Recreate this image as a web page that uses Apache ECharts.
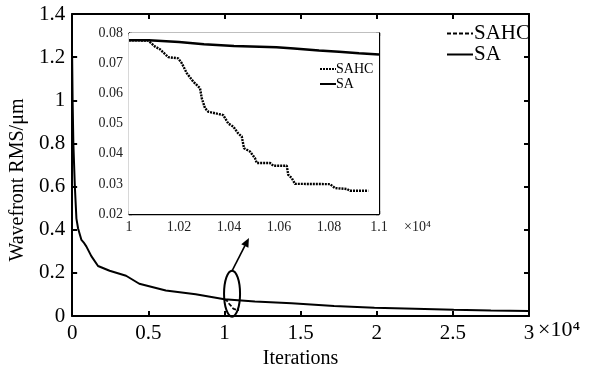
<!DOCTYPE html>
<html><head><meta charset="utf-8">
<script src="https://cdn.jsdelivr.net/npm/echarts@6/dist/echarts.min.js"></script>
<style>html,body{margin:0;padding:0;background:#fff}#c{width:590px;height:374px}</style>
</head><body><div id="c"></div>
<script>
// Main chart data (x in units of 10^4 iterations)
var mainSAx = [0, 0.003, 0.008, 0.0176, 0.028, 0.039, 0.061, 0.075, 0.083, 0.093, 0.126, 0.17, 0.246, 0.354, 0.441, 0.615, 0.811, 1.0, 1.2, 1.441, 1.72, 1.985, 2.25, 2.506, 2.75, 3.0];
var mainSAy = [1.2, 1.0, 0.8, 0.603, 0.452, 0.406, 0.353, 0.342, 0.346, 0.323, 0.278, 0.232, 0.210, 0.187, 0.150, 0.119, 0.101, 0.078, 0.068, 0.059, 0.047, 0.039, 0.034, 0.029, 0.026, 0.024];
// SAHC (zoomed region 1.0 - 1.1)
var sahcX = [1.0, 1.0077, 1.0104, 1.0124, 1.0157, 1.0197, 1.0211, 1.0231, 1.0257, 1.0284, 1.0291, 1.0304, 1.0317, 1.0377, 1.0397, 1.0417, 1.0437, 1.0451, 1.046, 1.0484, 1.0504, 1.0511, 1.0564, 1.0577, 1.0631, 1.0637, 1.0651, 1.0664, 1.0804, 1.0824, 1.0871, 1.0884, 1.0957];
var sahcY = [0.0776, 0.0775, 0.0755, 0.0746, 0.0720, 0.0716, 0.0700, 0.0667, 0.0639, 0.0617, 0.0584, 0.0551, 0.0539, 0.0528, 0.0500, 0.0490, 0.0467, 0.0457, 0.0418, 0.0407, 0.0385, 0.0369, 0.0369, 0.0360, 0.0360, 0.0330, 0.0319, 0.0300, 0.0299, 0.0286, 0.0283, 0.0277, 0.0277];
var insetSAx = [1.0, 1.008, 1.02, 1.03, 1.042, 1.059, 1.066, 1.076, 1.084, 1.092, 1.1];
var insetSAy = [0.0776, 0.0776, 0.0770, 0.0763, 0.0757, 0.0753, 0.0749, 0.0742, 0.0738, 0.0733, 0.0729];
var mainXTicks = [0, 0.5, 1, 1.5, 2, 2.5, 3];
var mainYTicks = [0, 0.2, 0.4, 0.6, 0.8, 1, 1.2, 1.4];
var insetXTicks = [1, 1.02, 1.04, 1.06, 1.08, 1.1];
var insetYTicks = [0.02, 0.03, 0.04, 0.05, 0.06, 0.07, 0.08];
var seriesNames = ['SAHC', 'SA'];
var INSET_SUFFIX = ' (inset)';

function pairs(xs, ys) { return xs.map(function (x, i) { return [x, ys[i]]; }); }
var FONT = 'Liberation Serif';
function fmt(d) { return function (v) { return String(+(+v).toFixed(d)); }; }

function ax(pos, grid, ticks, digits, opts) {
  return {
    type: 'value', gridIndex: grid, position: pos,
    min: ticks[0], max: ticks[ticks.length - 1], interval: +(ticks[1] - ticks[0]).toFixed(4),
    axisLine: { show: true, onZero: false, lineStyle: { color: '#000', width: opts.lw } },
    axisTick: { show: true, inside: true, length: opts.tl, lineStyle: { color: '#000', width: opts.lw } },
    axisLabel: { show: opts.label, color: opts.col || '#000', fontFamily: FONT, fontSize: opts.fs, margin: opts.margin, formatter: fmt(digits), showMinLabel: true, showMaxLabel: true },
    splitLine: { show: false }
  };
}

var chart = echarts.init(document.getElementById('c'), null, { renderer: 'canvas' });
var mainOpt = { lw: 2, tl: 5, fs: 21, margin: 7 };
var insOpt = { lw: 1.3, tl: 3, fs: 14, margin: 6, col: '#222' };

var xAxes = [
  Object.assign(ax('bottom', 0, mainXTicks, 1, Object.assign({ label: true }, mainOpt)), {
    name: 'Iterations', nameLocation: 'middle', nameGap: 31,
    nameTextStyle: { color: '#000', fontFamily: FONT, fontSize: 20 }
  }),
  ax('top', 0, mainXTicks, 1, Object.assign({ label: false }, mainOpt)),
  ax('bottom', 1, insetXTicks, 2, Object.assign({ label: true }, insOpt)),
  ax('top', 1, insetXTicks, 2, Object.assign({ label: false }, insOpt))
];
var yAxes = [
  Object.assign(ax('left', 0, mainYTicks, 1, Object.assign({ label: true }, mainOpt)), {
    name: 'Wavefront RMS/μm', nameLocation: 'middle', nameGap: 42,
    nameTextStyle: { color: '#000', fontFamily: FONT, fontSize: 20, padding: [0, 30, 0, 0] }
  }),
  ax('right', 0, mainYTicks, 1, Object.assign({ label: false }, mainOpt)),
  ax('left', 1, insetYTicks, 2, Object.assign({ label: true }, insOpt)),
  ax('right', 1, insetYTicks, 2, Object.assign({ label: false }, insOpt))
];

chart.setOption({
  animation: false,
  backgroundColor: '#fff',
  textStyle: { fontFamily: FONT },
  grid: [
    { left: 69, top: 14, right: 61, bottom: 51, show: false, containLabel: false },
    { left: 129, top: 33, right: 211, bottom: 160, show: true, backgroundColor: '#fff', borderWidth: 0, z: 1, containLabel: false }
  ],
  xAxis: xAxes,
  yAxis: yAxes,
  legend: [
    {
      id: 'mainLegend', show: true, z: 30, left: 441, top: 18, orient: 'vertical', itemGap: 0, itemWidth: 26, itemHeight: 12,
      selectedMode: false, itemStyle: { opacity: 0 },
      textStyle: { color: '#000', fontFamily: FONT, fontSize: 21, padding: [0, 0, 0, -4] },
      data: seriesNames
    },
    {
      id: 'insetLegend', show: true, z: 30, left: 314, top: 57, orient: 'vertical', itemGap: 1, itemWidth: 16, itemHeight: 8,
      selectedMode: false, itemStyle: { opacity: 0 },
      textStyle: { color: '#000', fontFamily: FONT, fontSize: 14, padding: [0, 0, 0, -5] },
      formatter: function (n) { return n.replace(INSET_SUFFIX, ''); },
      data: seriesNames.map(function (n) { return n + INSET_SUFFIX; })
    }
  ],
  series: [
    { name: seriesNames[1], type: 'line', xAxisIndex: 0, yAxisIndex: 0, data: pairs(mainSAx, mainSAy), symbol: 'none', lineStyle: { color: '#000', width: 2 }, itemStyle: { color: '#000' } },
    { name: seriesNames[0], type: 'line', xAxisIndex: 0, yAxisIndex: 0, data: pairs(sahcX, sahcY), symbol: 'none', lineStyle: { color: '#000', width: 1.8, type: [4, 2] }, itemStyle: { color: '#000' } },
    { name: seriesNames[1] + INSET_SUFFIX, type: 'line', xAxisIndex: 2, yAxisIndex: 2, data: pairs(insetSAx, insetSAy), symbol: 'none', z: 10, lineStyle: { color: '#000', width: 2.5 }, itemStyle: { color: '#000' } },
    { name: seriesNames[0] + INSET_SUFFIX, type: 'line', xAxisIndex: 2, yAxisIndex: 2, data: pairs(sahcX, sahcY), symbol: 'none', z: 10, lineStyle: { color: '#000', width: 2.4, type: [2, 1] }, itemStyle: { color: '#000' } }
  ]
});

// Annotations: ellipse around zoom region, arrow to inset, x10^4 multipliers
var c = chart.convertToPixel({ gridIndex: 0 }, [1.05, 0.104]);
var a0 = chart.convertToPixel({ gridIndex: 0 }, [1.05, 0.21]);
var a1 = chart.convertToPixel({ gridIndex: 0 }, [1.161, 0.362]);
var ang = Math.atan2(a1[1] - a0[1], a1[0] - a0[0]);
var hl = 9, hw = 4;
var bx = a1[0] - hl * Math.cos(ang), by = a1[1] - hl * Math.sin(ang);
var px = -Math.sin(ang), py = Math.cos(ang);
var mainEnd = chart.convertToPixel({ gridIndex: 0 }, [3, 0]);
var insEnd = chart.convertToPixel({ gridIndex: 1 }, [1.1, 0.02]);
chart.setOption({
  graphic: [
    { type: 'ellipse', shape: { cx: c[0], cy: c[1], rx: 8, ry: 23 }, style: { fill: 'none', stroke: '#000', lineWidth: 2 }, z: 20 },
    { type: 'line', shape: { x1: a0[0], y1: a0[1], x2: bx, y2: by }, style: { stroke: '#000', lineWidth: 1.6 }, z: 20 },
    { type: 'polygon', shape: { points: [[a1[0], a1[1]], [bx + px * hw, by + py * hw], [bx - px * hw, by - py * hw]] }, style: { fill: '#000' }, z: 20 },
    { type: 'text', left: mainEnd[0] + 9, top: mainEnd[1] + 3, style: { text: '×10⁴', font: '22px "Liberation Serif"', fill: '#000' }, z: 20 },
    { type: 'text', left: insEnd[0] + 25, top: insEnd[1] + 6, style: { text: '×10⁴', font: '14px "Liberation Serif"', fill: '#222' }, z: 20 }
  ]
});
</script></body></html>
